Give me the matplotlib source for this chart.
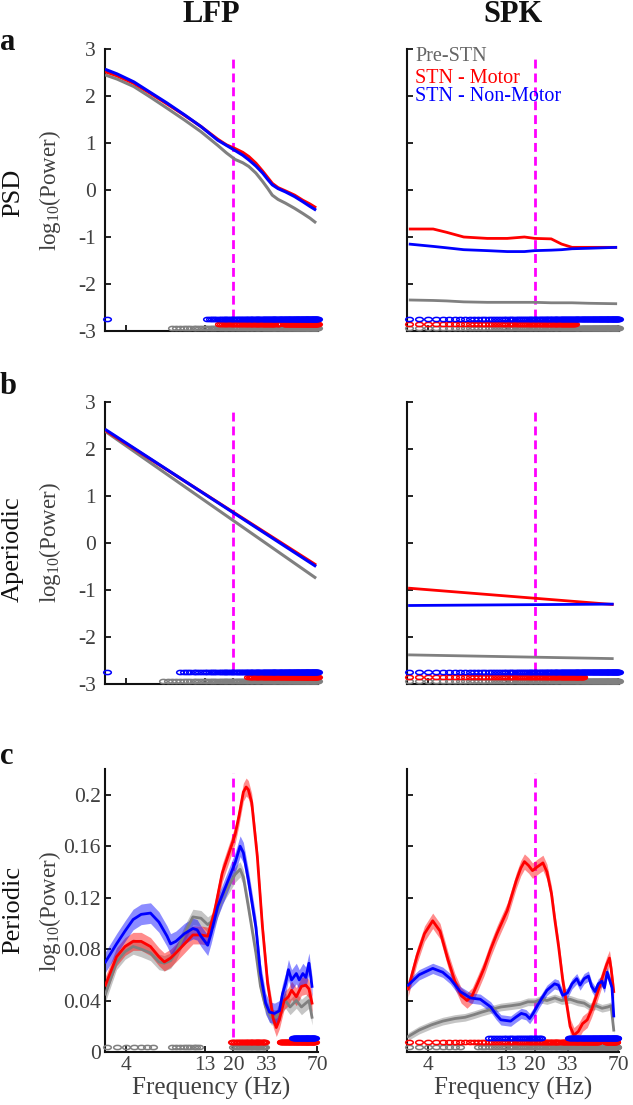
import numpy as np
import matplotlib
matplotlib.use("Agg")
import matplotlib.pyplot as plt
from matplotlib.path import Path
from matplotlib.transforms import Affine2D

# ------------------------------------------------------------
# FONTS
# ------------------------------------------------------------
plt.rcParams['font.family'] = ['Liberation Serif', 'DejaVu Serif']
plt.rcParams['mathtext.fontset'] = 'custom'
plt.rcParams['mathtext.rm'] = 'Liberation Serif'
plt.rcParams['mathtext.it'] = 'Liberation Serif:italic'

# ------------------------------------------------------------
# DATA
# ------------------------------------------------------------
groups = ["Pre-STN", "STN - Motor", "STN - Non-Motor"]

# a) PSD - LFP
lfp_psd_freq = [2.92, 3.5, 4.5, 5.8, 7.4, 9.6, 12.3, 15.8, 18.0, 20.5, 23.0, 25.2, 28.0, 31, 33.5,
                35.8, 39.0, 43.6, 50.0, 56.6, 63.0, 69]
lfp_psd_pre = [2.45, 2.36, 2.20, 1.97, 1.74, 1.49, 1.24, 0.95, 0.79, 0.65, 0.58, 0.50, 0.36, 0.18, 0.03,
               -0.11, -0.20, -0.28, -0.39, -0.50, -0.60, -0.70]
lfp_psd_motor = [2.52, 2.43, 2.27, 2.05, 1.83, 1.59, 1.35, 1.08, 0.96, 0.88, 0.80, 0.71, 0.57, 0.40, 0.26,
                 0.14, 0.05, -0.02, -0.11, -0.22, -0.30, -0.38]
lfp_psd_nonmotor = [2.57, 2.47, 2.30, 2.07, 1.85, 1.60, 1.35, 1.06, 0.95, 0.84, 0.74, 0.64, 0.51, 0.36, 0.22,
                    0.11, 0.03, -0.04, -0.14, -0.25, -0.35, -0.43]

# a) PSD - SPK
spk_psd_freq = [3.0, 4.33, 5.3, 6.86, 9.78, 13.2, 17.1, 20, 25.6, 29.9, 35, 45, 69]
spk_psd_pre = [-2.34, -2.35, -2.36, -2.38, -2.39, -2.39, -2.39, -2.39, -2.40, -2.40, -2.40, -2.41, -2.42]
spk_psd_motor = [-0.83, -0.83, -0.90, -1.00, -1.03, -1.03, -1.00, -1.03, -1.04, -1.15, -1.22, -1.22, -1.22]
spk_psd_nonmotor = [-1.15, -1.20, -1.23, -1.27, -1.29, -1.31, -1.31, -1.29, -1.28, -1.27, -1.25, -1.24, -1.22]

# b) Aperiodic fits
lfp_ap_freq = [2.92, 69]
lfp_ap_pre = [2.38, -0.75]
lfp_ap_motor = [2.40, -0.47]
lfp_ap_nonmotor = [2.42, -0.50]

spk_ap_freq = [2.97, 65.5]
spk_ap_pre = [-2.38, -2.46]
spk_ap_motor = [-0.96, -1.31]
spk_ap_nonmotor = [-1.33, -1.30]

# c) Periodic - LFP
lfp_per_freq_pre = [2.94, 3.47, 3.94, 4.45, 5.02, 5.77, 6.55, 7.1, 7.8, 8.44, 9.6, 10.9, 12.3, 13.6,
                    15.0, 16.9, 19.0, 20.5, 22.1, 23.2, 25.0, 28.0, 30.0, 32.4, 35.3, 38.0, 40.8,
                    43.6, 46.7, 51.3, 55.4, 59.2, 62, 64.9]
lfp_per_pre = [0.045, 0.070, 0.078, 0.082, 0.080, 0.077, 0.070, 0.069, 0.071, 0.077, 0.092, 0.105, 0.104, 0.099,
               0.103, 0.121, 0.131, 0.138, 0.142, 0.136, 0.113, 0.077, 0.051, 0.035, 0.027, 0.027, 0.035,
               0.040, 0.035, 0.040, 0.035, 0.038, 0.040, 0.027]
lfp_per_freq_motor = [2.94, 3.47, 3.94, 4.45, 5.02, 5.77, 6.55, 7.1, 7.8, 8.44, 9.6, 10.9, 12.3, 13.6,
                      15.0, 16.9, 19.0, 20.5, 21.7, 23.2, 24.2, 25.0, 26.3, 28.6, 30.9, 33.4, 36.3, 38.0,
                      39.8, 42.7, 45.6, 47.8, 51.3, 55.4, 59.2, 62, 64.9]
lfp_per_motor = [0.052, 0.074, 0.082, 0.086, 0.086, 0.082, 0.074, 0.070, 0.073, 0.077, 0.084, 0.091, 0.091, 0.090,
                 0.108, 0.139, 0.157, 0.169, 0.183, 0.202, 0.206, 0.204, 0.194, 0.152, 0.097, 0.053, 0.026, 0.019,
                 0.025, 0.040, 0.043, 0.048, 0.043, 0.051, 0.052, 0.049, 0.038]
lfp_per_freq_nonmotor = [2.94, 3.47, 3.94, 4.45, 5.02, 5.77, 6.55, 7.4, 7.8, 8.44, 9.6, 10.9, 11.6, 12.3, 13.6,
                         14.3, 15.8, 18.0, 20.5, 22.1, 23.2, 25.0, 28.0, 30.0, 32.4, 34.3, 37.0, 39.8,
                         41.7, 43.6, 45.6, 47.8, 51.3, 53.6, 56.6, 59.2, 62, 64.9]
lfp_per_nonmotor = [0.070, 0.084, 0.094, 0.103, 0.107, 0.108, 0.101, 0.090, 0.084, 0.086, 0.092, 0.096, 0.095, 0.090, 0.083,
                    0.092, 0.113, 0.130, 0.147, 0.160, 0.155, 0.134, 0.097, 0.061, 0.038, 0.031, 0.030, 0.032,
                    0.045, 0.053, 0.064, 0.056, 0.061, 0.056, 0.061, 0.058, 0.069, 0.051]

# c) Periodic - SPK
spk_per_freq_pre = [2.97, 3.5, 4.2, 5.0, 6.0, 7.0, 8.0, 9.0, 10.3, 12.0, 14.0, 16.0, 18.0, 20.0, 22.0,
                    24.0, 27.0, 30.0, 34.0, 38.0, 42.0, 46, 50, 55, 60, 63, 65.6]
spk_per_pre = [0.012, 0.017, 0.021, 0.024, 0.026, 0.027, 0.029, 0.031, 0.033, 0.035, 0.036, 0.037, 0.039, 0.039, 0.041,
               0.040, 0.042, 0.040, 0.041, 0.039, 0.038, 0.035, 0.036, 0.034, 0.035, 0.036, 0.017]
spk_per_freq_motor = [2.97, 3.4, 3.8, 4.3, 4.8, 5.4, 6.0, 6.6, 7.2, 7.8, 8.5, 9.3, 10.3, 11.3, 12.0, 13.2,
                      14.0, 15.1, 16.2, 17.1, 18.2, 19.3, 20.8, 22.6, 24.0, 25.7, 27.0, 28.6, 30.5, 32.5,
                      34.0, 36.0, 38.5, 41, 44, 47, 51, 55, 59, 61.5, 63, 65.6]
spk_per_motor = [0.049, 0.075, 0.092, 0.102, 0.094, 0.072, 0.055, 0.044, 0.040, 0.044, 0.054, 0.065, 0.080, 0.092, 0.099, 0.110,
                 0.120, 0.133, 0.143, 0.148, 0.145, 0.141, 0.144, 0.147, 0.140, 0.123, 0.103, 0.082, 0.055, 0.035,
                 0.020, 0.013, 0.016, 0.022, 0.025, 0.033, 0.045, 0.057, 0.068, 0.073, 0.065, 0.047]
spk_per_freq_nonmotor = [2.97, 3.5, 4.3, 5.0, 5.6, 6.5, 7.6, 8.8, 10.3, 11.2, 12.0, 13.9, 15.0, 16.3, 17.5,
                         18.5, 19.5, 21.5, 24, 26.9, 28.5, 30.5, 32.7, 35, 37.6, 39.5, 42, 44.8, 47,
                         49.5, 52, 54.8, 57, 59.4, 62, 63.9, 65.6]
spk_per_nonmotor = [0.052, 0.060, 0.065, 0.062, 0.057, 0.047, 0.042, 0.041, 0.035, 0.029, 0.025, 0.024, 0.027, 0.030, 0.029,
                    0.026, 0.030, 0.039, 0.048, 0.053, 0.052, 0.044, 0.046, 0.053, 0.057, 0.052, 0.057, 0.059, 0.051,
                    0.047, 0.053, 0.055, 0.050, 0.062, 0.055, 0.050, 0.028]

# SEM of the periodic component (pre, motor, non-motor)
lfp_per_sem = [0.006, 0.007, 0.008]
spk_per_sem = [0.003, 0.006, 0.004]

# significance (frequency ranges in Hz, per group: pre, motor, non-motor)
sig_freq = np.arange(3.0, 71.0, 0.5)
sig_a_lfp = [[(7.6, 71)], [(16, 37.3), (38.3, 39.8), (42.5, 71)], [(3, 3), (13.3, 71)]]
sig_a_spk = [[(3, 71)], [(3, 36.5)], [(3, 71)]]
sig_b_lfp = [[(7.0, 71)], [(24.6, 71)], [(3, 3), (8.6, 71)]]
sig_b_spk = [[(3, 71)], [(3, 41.8)], [(3, 71)]]
sig_c_lfp = [[(3, 6.0), (7.8, 12.4), (19.6, 32)], [(19.2, 32.3), (40.3, 67.5)], [(48.8, 67.5)]]
sig_c_spk = [[(3, 6.5), (8.4, 69)], [(3, 29), (30, 52), (58, 68)], [(9.7, 22), (33.3, 69)]]

xticks = [4, 13, 20, 33, 70]
beta_freq = 20

# ------------------------------------------------------------
# STYLE
# ------------------------------------------------------------
COLORS = ['#808080', '#ff0000', '#0000ff']
TXT_GREY = '#404040'
MAGENTA = '#ff00ff'
ELLIPSE = Path.unit_circle().transformed(Affine2D().scale(1.0, 0.55))
TICK_FS = 15.5


def style_axis(ax, ylim, yticks, ylabels, xlabels, ypad):
    ax.set_xscale('log')
    ax.set_xlim(2.92, 71)
    ax.set_ylim(*ylim)
    ax.set_xticks(xticks)
    ax.xaxis.set_minor_locator(matplotlib.ticker.NullLocator())
    ax.set_xticklabels([str(t) for t in xticks] if xlabels else [])
    ax.set_yticks(yticks)
    ax.set_yticklabels(ylabels if ylabels is not None else [])
    for s in ['top', 'right']:
        ax.spines[s].set_visible(False)
    for s in ['left', 'bottom']:
        ax.spines[s].set_linewidth(1.5)
        ax.spines[s].set_color('#111111')
    ax.tick_params(direction='in', length=4.5, width=1.3, colors='#111111',
                   labelcolor=TXT_GREY, labelsize=TICK_FS)
    ax.tick_params(axis='y', pad=ypad)
    ax.tick_params(axis='x', pad=3)


def draw_sig(ax, sig, levels):
    for intervals, level, color in zip(sig, levels, COLORS):
        mask = np.zeros(len(sig_freq), dtype=bool)
        for lo, hi in intervals:
            mask |= (sig_freq >= lo - 1e-9) & (sig_freq <= hi + 1e-9)
        ax.plot(sig_freq[mask], np.full(mask.sum(), level), ls='none', marker=ELLIPSE,
                ms=5.5, mfc='none', mec=color, mew=1.1, clip_on=False, zorder=4)


def draw_lines(ax, freqs, series, lw=2.0):
    for f, v, c in zip(freqs, series, COLORS):
        ax.plot(f, v, color=c, lw=lw, solid_capstyle='butt', zorder=3)


def draw_bands(ax, freqs, series, sems):
    for f, v, s, c in zip(freqs, series, sems, COLORS):
        v = np.asarray(v)
        ax.fill_between(f, v - s, v + s, color=c, alpha=0.45, lw=0, zorder=2)
        ax.plot(f, v, color=c, lw=2.0, zorder=3)


fig = plt.figure(figsize=(6.33, 11.05), dpi=100)
col_x = [105 / 633, 407 / 633]
col_w = [213 / 633, 212 / 633]
row_b = [1 - 331 / 1105, 1 - 684 / 1105, 1 - 1052 / 1105]
row_h = [282 / 1105, 282 / 1105, 283 / 1105]

axes = {}
for r in range(3):
    for c in range(2):
        axes[(r, c)] = fig.add_axes([col_x[c], row_b[r], col_w[c], row_h[r]])

psd_ticks = [-3, -2, -1, 0, 1, 2, 3]
psd_labels = ['-3', '-2', '-1', '0', '1', '2', '3']
per_ticks = [0, 0.04, 0.08, 0.12, 0.16, 0.2]
per_labels = ['0', '0.04', '0.08', '0.12', '0.16', '0.2']
psd_levels = [-2.94, -2.85, -2.75]
per_levels = [0.0040, 0.0075, 0.0110]

# --- a: PSD
ax = axes[(0, 0)]
draw_lines(ax, [lfp_psd_freq] * 3, [lfp_psd_pre, lfp_psd_motor, lfp_psd_nonmotor], lw=2.2)
draw_sig(ax, sig_a_lfp, psd_levels)
ax.vlines(beta_freq, -2.72, 2.87, color=MAGENTA, lw=2, linestyles=(0, (3.2, 1.8)), zorder=1)
style_axis(ax, (-3, 3), psd_ticks, psd_labels, False, 6.5)

ax = axes[(0, 1)]
draw_lines(ax, [spk_psd_freq] * 3, [spk_psd_pre, spk_psd_motor, spk_psd_nonmotor])
draw_sig(ax, sig_a_spk, psd_levels)
ax.vlines(beta_freq, -2.72, 2.87, color=MAGENTA, lw=2, linestyles=(0, (3.2, 1.8)), zorder=1)
style_axis(ax, (-3, 3), psd_ticks, None, False, 6.5)
legend_y = [0.972, 0.897, 0.830]
for name, c, yy in zip(groups, ['#666666', COLORS[1], COLORS[2]], legend_y):
    ax.text(0.04, yy, name, color=c, fontsize=14.5, va='center', ha='left', transform=ax.transAxes)

# --- b: Aperiodic
ax = axes[(1, 0)]
draw_lines(ax, [lfp_ap_freq] * 3, [lfp_ap_pre, lfp_ap_motor, lfp_ap_nonmotor], lw=2.2)
draw_sig(ax, sig_b_lfp, psd_levels)
ax.vlines(beta_freq, -2.72, 2.87, color=MAGENTA, lw=2, linestyles=(0, (3.2, 1.8)), zorder=1)
style_axis(ax, (-3, 3), psd_ticks, psd_labels, False, 6.5)

ax = axes[(1, 1)]
draw_lines(ax, [spk_ap_freq] * 3, [spk_ap_pre, spk_ap_motor, spk_ap_nonmotor])
draw_sig(ax, sig_b_spk, psd_levels)
ax.vlines(beta_freq, -2.72, 2.87, color=MAGENTA, lw=2, linestyles=(0, (3.2, 1.8)), zorder=1)
style_axis(ax, (-3, 3), psd_ticks, None, False, 6.5)

# --- c: Periodic
ax = axes[(2, 0)]
draw_bands(ax, [lfp_per_freq_pre, lfp_per_freq_motor, lfp_per_freq_nonmotor],
           [lfp_per_pre, lfp_per_motor, lfp_per_nonmotor], lfp_per_sem)
draw_sig(ax, sig_c_lfp, per_levels)
ax.vlines(beta_freq, 0.012, 0.217, color=MAGENTA, lw=2, linestyles=(0, (3.2, 1.8)), zorder=1)
style_axis(ax, (0, 0.22), per_ticks, per_labels, True, 3)
ax.set_xlabel('Frequency (Hz)', fontsize=18, color=TXT_GREY, labelpad=1)

ax = axes[(2, 1)]
draw_bands(ax, [spk_per_freq_pre, spk_per_freq_motor, spk_per_freq_nonmotor],
           [spk_per_pre, spk_per_motor, spk_per_nonmotor], spk_per_sem)
draw_sig(ax, sig_c_spk, per_levels)
ax.vlines(beta_freq, 0.012, 0.217, color=MAGENTA, lw=2, linestyles=(0, (3.2, 1.8)), zorder=1)
style_axis(ax, (0, 0.22), per_ticks, None, True, 3)
ax.set_xlabel('Frequency (Hz)', fontsize=18, color=TXT_GREY, labelpad=1)

# --- labels
fig.text(211 / 633, 1 - 14 / 1105, 'LFP', fontsize=22, fontweight='bold', ha='center', va='center', color='#111111')
fig.text(513 / 633, 1 - 14 / 1105, 'SPK', fontsize=22, fontweight='bold', ha='center', va='center', color='#111111')
for letter, yy in zip(['a', 'b', 'c'], [42, 386, 757]):
    fig.text(0.0, 1 - yy / 1105, letter, fontsize=22, fontweight='bold', ha='left', va='center', color='#111111')
for name, yy in zip(['PSD', 'Aperiodic', 'Periodic'], [193, 549, 910]):
    fig.text(13 / 633, 1 - yy / 1105, name, fontsize=19, rotation=90, ha='center', va='center', color='#111111')
for yy in [191, 543, 912]:
    fig.text(50 / 633, 1 - yy / 1105, r'log$_{10}$(Power)', fontsize=16.5, rotation=90,
             ha='center', va='center', color=TXT_GREY)

fig.savefig('out.png', dpi=100)
